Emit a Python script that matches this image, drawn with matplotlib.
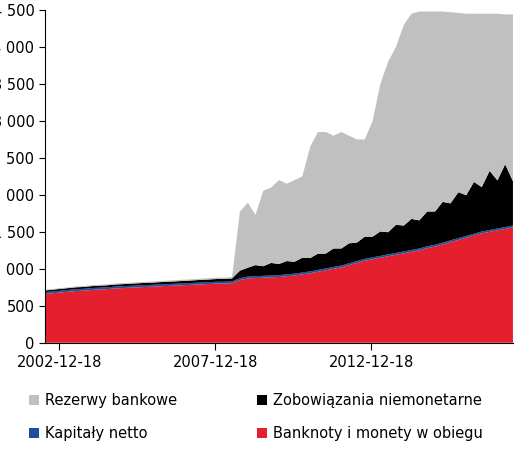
import matplotlib
matplotlib.use("Agg")
import matplotlib.pyplot as plt
import pandas as pd

dates = pd.date_range("2002-07-01", periods=61, freq="QS")

banknoty = [660,670, 680,690,700,705, 715,720,725,735, 740,745,750,755,
            760,765,770,775, 780,785,790,795, 800,800,805,850, 870,875,880,885,
            890,900,910,925, 940,960,980,1000, 1020,1050,1080,1110, 1130,1150,1170,1190,
            1210,1230,1250,1280, 1300,1330,1360,1390, 1420,1450,1480,1500, 1520,1540,1560]
kapitaly = [25]*61
zobowiazania = [22,22, 24,24,25,25, 26,27,27,28, 28,29,30,30, 30,31,32,32,
                33,34,35,36, 37,38,40,100, 120,150,130,170, 150,180,160,200,
                180,220,200,250, 230,270,250,300, 280,330,300,380, 350,420,380,470,
                450,550,500,620, 550,700,600,800, 650,850,600]
rezerwy = [10,11, 11,11,12,12, 12,12,13,13, 13,14,14,14, 15,15,15,16,
           16,16,17,17, 18,18,20,800, 880,680,1020,1020, 1135,1045,1105,1100,
           1505,1645,1645,1525, 1575,1455,1395,1315, 1565,1995,2305,2405,
           2715,2775,2825,2705, 2705,2575,2585,2425, 2455,2275,2345,2125, 2255,2025,2255]

labels = ["Banknoty i monety w obiegu", "Kapitały netto", "Zobowiązania niemonetarne", "Rezerwy bankowe"]
colors = ["#E4202E", "#1F4E9A", "#000000", "#C0C0C0"]

fig = plt.figure(figsize=(5.15, 4.54), dpi=100)
ax = fig.add_axes([0.087, 0.245, 0.909, 0.733])
ax.stackplot(dates, banknoty, kapitaly, zobowiazania, rezerwy, colors=colors, labels=labels, linewidth=0)
ax.set_xlim(dates[0], dates[-1])
ax.set_ylim(0, 4500)
ax.set_yticks(range(0, 4501, 500))
ax.set_yticklabels([f"{v:,}".replace(",", " ") for v in range(0, 4501, 500)])
ticks = pd.to_datetime(["2002-12-18", "2007-12-18", "2012-12-18"])
ax.set_xticks(ticks)
ax.set_xticklabels([t.strftime("%Y-%m-%d") for t in ticks])
for s in ["top", "right"]:
    ax.spines[s].set_visible(False)
ax.tick_params(labelsize=10.5, length=4)
ax.tick_params(axis="x", length=5)

h, l = ax.get_legend_handles_labels()
order = [3, 1, 2, 0]
fig.legend([h[i] for i in order], [l[i] for i in order], loc="lower left",
           bbox_to_anchor=(0.03, 0.0), ncol=2, frameon=False, fontsize=10.5,
           handlelength=0.7, handleheight=0.7, columnspacing=5.5, handletextpad=0.4,
           labelspacing=1.2)
fig.savefig("out.png", dpi=100)
